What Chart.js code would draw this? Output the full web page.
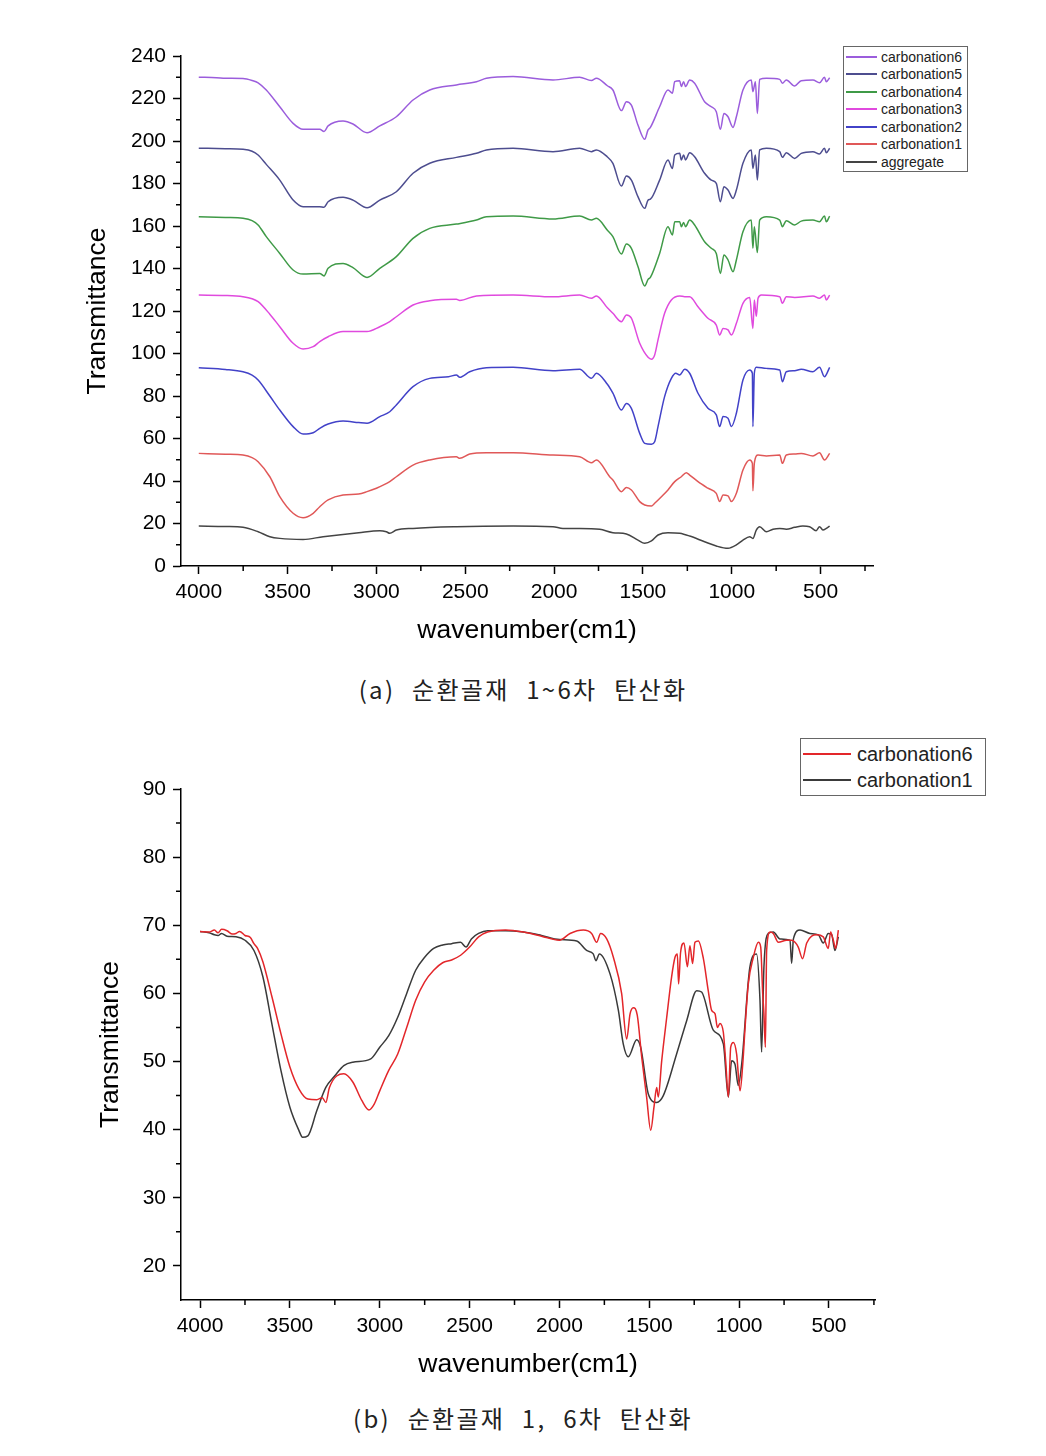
<!DOCTYPE html>
<html>
<head>
<meta charset="utf-8">
<script src="https://cdn.jsdelivr.net/npm/chart.js@4.4.1/dist/chart.umd.min.js"></script>
<style>
  body { margin: 0; background: #fff; width: 1046px; height: 1456px; position: relative; font-family: "Liberation Sans", Arial, sans-serif; }
  canvas { position: absolute; left: 0; }
  #topChart { top: 0; }
  #bottomChart { top: 720px; }
  .legend { position: absolute; border: 1.5px solid #666; background: #fff; box-sizing: border-box; color: #222; }
  .legend .row { display: flex; align-items: center; white-space: nowrap; }
  .legend .sw { display: inline-block; height: 2px; }
  #legendTop { left: 843px; top: 46px; width: 125px; height: 126px; font-size: 14px; padding-top: 1px; }
  #legendTop .row { height: 17.5px; }
  #legendTop .sw { width: 31px; margin: 0 4px 0 2px; }
  #legendBottom { left: 800px; top: 738px; width: 186px; height: 58px; font-size: 20px; padding-top: 2px; }
  #legendBottom .row { height: 26px; }
  #legendBottom .sw { width: 48px; margin: 0 6px 0 2px; }
  .caption { position: absolute; left: 0; width: 1046px; text-align: center; font-family: "Noto Sans CJK KR", sans-serif; font-weight: 400; font-size: 24px; letter-spacing: 2.3px; word-spacing: 9px; color: #222; }
</style>
</head>
<body>
<canvas id="topChart" width="1046" height="660"></canvas>
<canvas id="bottomChart" width="1046" height="680"></canvas>
<div class="legend" id="legendTop"></div>
<div class="legend" id="legendBottom"></div>
<div class="caption" style="top:671px">(a) 순환골재 1~6차 탄산화</div>
<div class="caption" style="top:1400px">(b) 순환골재 1, 6차 탄산화</div>
<script>
// axis ticks
const wnTicks = [4000, 3500, 3000, 2500, 2000, 1500, 1000, 500];
const wnMinor = [3750, 3250, 2750, 2250, 1750, 1250, 750, 250];
const topYTicks = [0, 20, 40, 60, 80, 100, 120, 140, 160, 180, 200, 220, 240];
const topYMinor = [10, 30, 50, 70, 90, 110, 130, 150, 170, 190, 210, 230];
const botYTicks = [20, 30, 40, 50, 60, 70, 80, 90];
const botYMinor = [25, 35, 45, 55, 65, 75, 85];

// (a) stacked spectra, [wavenumber, transmittance]
const carb6 = [[4000,230.0],[3900,229.8],[3850,229.5],[3751,229.4],[3700,228.5],[3666,227.4],[3620,224],[3544,216.1],[3469,208.3],[3413,205.5],[3319,205.5],[3295,204.5],[3272,207.1],[3188,209.4],[3132,208],[3053,203.9],[2981,207.1],[2888,211.4],[2794,219.3],[2700,224],[2550,226.4],[2437,227.9],[2381,229.5],[2231,230.3],[2006,228.7],[1856,230],[1790,228.5],[1762,229.5],[1700,226],[1669,224],[1621,214.3],[1593,218.5],[1565,216.9],[1528,207.5],[1490,200.8],[1471,205.2],[1458,206.4],[1406,216.1],[1359,224],[1334,222.5],[1321,227.9],[1293,228.4],[1284,225.6],[1271,227.9],[1260,225.6],[1237,228.7],[1209,227.2],[1153,218.5],[1115,216.1],[1087,213.8],[1064,205.5],[1044,213],[1021,211.4],[993,206.4],[974,211.4],[937,224],[890,228.7],[881,223.2],[867,227.9],[856,213],[843,229],[805,229.5],[730,229],[715,227.2],[693,228.7],[646,225.9],[609,228.4],[543,228.7],[506,227.4],[478,230],[468,227.9],[449,229.8]];
const carb5 = [[4000,196.6],[3850,196.4],[3751,196.1],[3700,195.2],[3666,193.4],[3620,189],[3544,181.6],[3469,172.2],[3413,169.1],[3319,169.1],[3295,168.8],[3272,171.4],[3188,173.5],[3132,172.2],[3053,168.6],[2981,172.2],[2888,176.1],[2794,184.8],[2700,189.5],[2550,192.3],[2437,194.2],[2381,195.8],[2231,196.6],[2006,195],[1856,196.6],[1790,195],[1762,195.8],[1700,192.5],[1669,189.5],[1621,178.8],[1593,183.5],[1565,181.6],[1528,173.8],[1490,168.3],[1471,172.2],[1458,172.6],[1406,181.6],[1359,191.1],[1334,187.1],[1321,193.4],[1293,194.2],[1284,191.1],[1271,193.4],[1260,191.1],[1237,194.5],[1209,192.6],[1153,184.8],[1115,181.6],[1087,180.1],[1064,171.4],[1044,178.5],[1021,176.9],[993,173],[974,176.9],[937,189.5],[890,195.8],[881,187.1],[867,193.4],[856,181.6],[843,195.8],[805,196.6],[730,195],[715,192.3],[693,194.5],[646,191.8],[609,194.2],[543,195],[506,193.9],[478,196.6],[468,194.5],[449,196.6]];
const carb4 = [[4000,164.4],[3850,164],[3751,163.6],[3700,162.5],[3666,160.5],[3620,155],[3544,147.1],[3469,139.3],[3413,137.4],[3319,137.7],[3295,136.5],[3272,140.1],[3188,142.4],[3132,140.4],[3053,135.8],[2981,140.1],[2888,145.6],[2794,154.2],[2700,158.9],[2550,160.9],[2437,162.8],[2381,164.4],[2231,164.7],[2006,163.3],[1856,164.7],[1790,162.8],[1762,163.6],[1700,158],[1669,155],[1621,146.8],[1593,151.5],[1565,149.5],[1528,140.9],[1490,131.8],[1471,134.9],[1458,135.8],[1406,147.1],[1359,159.7],[1334,155.8],[1321,162],[1293,162],[1284,159.7],[1271,161.6],[1260,159.7],[1237,162.8],[1209,160.5],[1153,152.6],[1115,149.5],[1087,147.1],[1064,137.7],[1044,146.4],[1021,144],[993,138.5],[974,144],[937,157.3],[890,162.8],[881,149.5],[873,159.7],[856,147.5],[843,162.8],[805,164.4],[730,162.8],[715,159.7],[693,162.5],[646,160.5],[609,162.3],[543,162.8],[506,162],[478,164.7],[468,162],[449,164.7]];
const carb3 = [[4000,127.5],[3850,127.3],[3751,126.7],[3700,125.8],[3666,124.4],[3600,118.5],[3544,112.6],[3469,104.8],[3413,102.1],[3356,103.2],[3319,105.6],[3272,107.9],[3188,110.3],[3100,110.3],[3053,110.3],[2981,112.6],[2925,115],[2888,117.3],[2794,122.8],[2700,124.8],[2550,125.5],[2531,125.0],[2437,127.1],[2231,127.5],[2006,126.7],[1856,127.5],[1790,126],[1762,127.1],[1700,121.5],[1669,118.9],[1621,115],[1593,118.1],[1565,116.6],[1518,104.8],[1471,98.2],[1452,97.3],[1434,99.3],[1415,106.4],[1378,118.9],[1340,125.2],[1293,127.1],[1265,126.7],[1237,126.7],[1190,122],[1134,116.6],[1087,113.4],[1068,108.7],[1049,111.8],[1021,111.1],[1002,108.7],[974,114.2],[937,123.6],[899,126.4],[881,111.8],[873,125.2],[862,117.5],[852,126],[833,127.5],[730,126.7],[715,123.6],[693,126.7],[646,126.4],[543,127.1],[506,126],[478,127.5],[468,125.2],[449,127.5]];
const carb2 = [[4000,93.3],[3850,92.5],[3751,91.4],[3700,89.8],[3666,87.5],[3600,80],[3544,73.4],[3469,65.6],[3413,62.1],[3356,62.7],[3319,64.8],[3272,66.8],[3188,68.2],[3100,67.5],[3053,67.2],[2981,70.3],[2925,72.6],[2888,75.8],[2794,84.4],[2700,88.3],[2594,89.1],[2550,89.9],[2531,88.8],[2475,91.4],[2381,93.3],[2231,93.5],[2006,91.9],[1856,92.6],[1790,88.3],[1762,90.7],[1700,85.5],[1669,81.3],[1621,73.4],[1593,76.5],[1565,74.2],[1518,62.4],[1490,57.7],[1452,57.3],[1434,58.5],[1415,65.6],[1378,79.7],[1340,88.3],[1315,90.7],[1293,89.9],[1265,92.6],[1237,90.7],[1190,81.3],[1134,74.2],[1087,71.1],[1068,65.6],[1049,70.3],[1021,69.5],[1002,65.6],[974,71.9],[937,87.5],[899,92.2],[884,90.7],[881,65.6],[873,90.7],[862,93.5],[805,93],[730,92.2],[715,86.7],[693,91.4],[646,91.9],[609,92.6],[543,91.4],[506,93.5],[478,89.1],[449,93.5]];
const carb1 = [[4000,53],[3850,52.6],[3751,52.2],[3700,51],[3666,49.1],[3600,42],[3544,32.6],[3469,24.8],[3413,22.7],[3356,24.8],[3319,27.9],[3272,31.1],[3188,33.4],[3100,33.9],[3053,35],[3000,36.6],[2925,39.7],[2888,42],[2794,47.5],[2700,49.9],[2550,51.4],[2531,50.7],[2475,52.7],[2381,53.3],[2231,53.3],[2006,52.2],[1856,51.4],[1790,48.6],[1762,49.9],[1687,42],[1669,40.5],[1621,35],[1593,37],[1565,35.8],[1518,30.3],[1490,28.7],[1452,28.2],[1434,29.5],[1396,32.6],[1359,35.8],[1321,39.7],[1284,42],[1256,43.9],[1237,42.8],[1190,39.7],[1134,36.6],[1087,34.2],[1068,30.3],[1049,33.4],[1021,33],[1002,30.3],[974,34.2],[937,45.2],[899,49.9],[884,48.3],[881,35.4],[873,48.3],[852,52.2],[805,51.8],[730,52.2],[715,48.3],[693,52.2],[646,52.7],[609,53],[543,51.8],[506,53.3],[478,49.9],[449,53]];
const aggregate = [[4000,18.8],[3850,18.6],[3751,18.2],[3666,16.1],[3600,13.8],[3544,13],[3413,12.5],[3300,13.8],[3100,15.7],[2981,16.6],[2944,16.1],[2925,15.4],[2888,16.9],[2794,17.7],[2550,18.5],[2231,18.8],[2006,18.5],[1950,17.7],[1856,17.7],[1743,17.3],[1669,15.7],[1593,15.1],[1528,12.2],[1490,10.7],[1452,11.8],[1415,14.6],[1359,15.7],[1293,15.4],[1237,14.1],[1153,11.4],[1087,9.4],[1021,8.3],[974,9.9],[937,12.2],[899,13.8],[881,13],[862,16.9],[843,18.5],[805,16.1],[768,17.3],[730,17.7],[693,17.3],[646,18.2],[600,18.8],[562,18.5],[525,16.6],[506,18.5],[487,17],[468,17.7],[449,18.8]];

// (b) carbonation 1 vs 6
const b6 = [[4000,69.1],[3950,69.0],[3920,69.3],[3900,68.9],[3880,69.4],[3850,69.2],[3820,68.7],[3800,68.8],[3780,69.1],[3750,68.5],[3720,68.2],[3700,67.3],[3680,66.6],[3650,64.6],[3600,59.5],[3550,54.1],[3500,49.2],[3450,46],[3400,44.5],[3350,44.4],[3320,44.7],[3300,44],[3280,46.2],[3200,48.2],[3150,47],[3100,44.3],[3060,42.9],[3030,43.8],[3000,45.7],[2950,48.7],[2900,51.1],[2850,55],[2800,59],[2750,61.7],[2700,63.4],[2650,64.5],[2600,64.9],[2550,65.6],[2500,66.8],[2450,68.3],[2400,69],[2300,69.3],[2200,69],[2100,68.4],[2000,67.8],[1941,68.8],[1867,69.3],[1821,68.8],[1793,67.5],[1771,68.8],[1737,68],[1700,65.3],[1654,60],[1626,53.3],[1607,57],[1589,57.9],[1567,56.8],[1542,50.6],[1515,44.8],[1492,39.9],[1474,43.3],[1459,46.2],[1450,44.8],[1431,50.1],[1403,56.5],[1376,62.4],[1357,65.3],[1344,65.8],[1337,61.4],[1326,66],[1307,67.4],[1288,63.9],[1274,67],[1259,64.4],[1246,67.5],[1227,67.7],[1199,65.1],[1172,60.4],[1153,57.5],[1134,57],[1121,55],[1107,55.6],[1088,54.3],[1075,50.1],[1060,44.8],[1047,52.1],[1032,52.8],[1014,51.1],[995,45.7],[980,49.6],[967,55],[949,61.4],[921,65.3],[893,67.5],[880,66.8],[869,60],[862,57],[854,52.1],[847,66.3],[828,69],[810,68.8],[782,67.5],[736,67.8],[708,67.8],[689,67.5],[671,66.8],[647,65.1],[624,67.4],[569,68.6],[532,68.3],[504,66.6],[491,69],[476,67.8],[463,66.6],[448,69.3]];
const b1 = [[4000,69.1],[3950,68.9],[3920,68.6],[3900,68.5],[3880,68.8],[3850,68.4],[3800,68.3],[3750,67.8],[3700,66.3],[3650,62.4],[3600,55.5],[3550,48.7],[3500,43.3],[3450,39.9],[3430,38.9],[3400,39.1],[3350,42.8],[3300,46.2],[3250,47.9],[3200,49.4],[3150,49.9],[3050,50.4],[3000,52.1],[2950,53.8],[2900,56.5],[2850,60],[2800,63.4],[2750,65.3],[2700,66.6],[2650,67.1],[2600,67.3],[2550,67.5],[2520,66.8],[2490,68],[2450,68.8],[2400,69.2],[2300,69.2],[2200,69],[2100,68.5],[2000,67.9],[1904,67.7],[1849,66.3],[1812,65.8],[1797,64.8],[1778,65.8],[1719,62.9],[1672,57.5],[1645,52.6],[1617,50.7],[1570,53.2],[1548,52.1],[1505,45.2],[1459,44],[1422,45],[1348,51.1],[1292,56],[1236,60.4],[1209,60.2],[1144,54.6],[1088,52.6],[1060,44.8],[1042,50.1],[1023,49.6],[1005,46.5],[986,49.6],[940,63.9],[903,65.8],[884,59],[875,51.4],[862,63.9],[838,68.8],[810,69],[773,68],[717,67.8],[708,64.4],[698,68],[661,69.3],[606,68.8],[559,68.6],[532,67.4],[504,68.8],[485,68.6],[467,66.3],[448,68.3]];

const FONT = '"Liberation Sans", Arial, sans-serif';
const toXY = (arr) => arr.map((p) => ({ x: p[0], y: p[1] }));

// minor ticks, Origin style
const minorTicks = {
  id: 'minorTicks',
  afterDraw(chart, args, opts) {
    const ctx = chart.ctx;
    const xs = chart.scales.x;
    const ys = chart.scales.y;
    ctx.save();
    ctx.strokeStyle = '#000';
    ctx.lineWidth = 1.5;
    ctx.beginPath();
    (opts.x || []).forEach((v) => {
      const px = xs.getPixelForValue(v);
      ctx.moveTo(px, xs.top);
      ctx.lineTo(px, xs.top + 5);
    });
    (opts.y || []).forEach((v) => {
      const py = ys.getPixelForValue(v);
      ctx.moveTo(ys.right - 5, py);
      ctx.lineTo(ys.right, py);
    });
    ctx.stroke();
    ctx.restore();
  },
};

function axisCommon() {
  return {
    grid: { display: true, drawOnChartArea: false, drawTicks: true, tickLength: 8, tickWidth: 1.5, tickColor: '#000' },
    border: { display: true, color: '#000', width: 1.5 },
  };
}

function makeChart(id, datasets, cfg) {
  return new Chart(document.getElementById(id), {
    type: 'line',
    data: { datasets: datasets },
    plugins: [minorTicks],
    options: {
      responsive: false,
      animation: false,
      events: [],
      layout: { padding: cfg.padding },
      elements: { point: { radius: 0 }, line: { borderWidth: 1.5, cubicInterpolationMode: 'monotone' } },
      plugins: {
        legend: { display: false },
        tooltip: { enabled: false },
        minorTicks: { x: wnMinor, y: cfg.yMinor },
      },
      scales: {
        x: Object.assign(axisCommon(), {
          type: 'linear',
          reverse: true,
          min: cfg.xMin,
          max: cfg.xMax,
          afterBuildTicks: (s) => { s.ticks = wnTicks.map((v) => ({ value: v })); },
          afterFit: (s) => { s.height = 81; },
          ticks: { color: '#000', font: { family: FONT, size: 21 }, padding: 6, maxRotation: 0, autoSkip: false, callback: (v) => String(v) },
          title: { display: true, text: 'wavenumber(cm1)', color: '#000', font: { family: FONT, size: 26.5 }, padding: 0 },
        }),
        y: Object.assign(axisCommon(), {
          type: 'linear',
          min: cfg.yMin,
          max: cfg.yMax,
          afterBuildTicks: (s) => { s.ticks = cfg.yTicks.map((v) => ({ value: v })); },
          afterFit: (s) => { s.width = cfg.yWidth; },
          ticks: { color: '#000', font: { family: FONT, size: 21 }, padding: 7, autoSkip: false, callback: (v) => String(v) },
          title: { display: true, text: 'Transmittance', color: '#000', font: { family: FONT, size: 26.5 }, padding: 0 },
        }),
      },
    },
  });
}

function buildLegend(elId, chart) {
  const el = document.getElementById(elId);
  chart.data.datasets.forEach((ds) => {
    const row = document.createElement('div');
    row.className = 'row';
    const sw = document.createElement('span');
    sw.className = 'sw';
    sw.style.backgroundColor = ds.borderColor;
    const tx = document.createElement('span');
    tx.textContent = ds.label;
    row.append(sw, tx);
    el.appendChild(row);
  });
}

const topChart = makeChart('topChart', [
  { label: 'carbonation6', data: toXY(carb6), borderColor: '#9b5ddc' },
  { label: 'carbonation5', data: toXY(carb5), borderColor: '#4d4d8f' },
  { label: 'carbonation4', data: toXY(carb4), borderColor: '#3f9a47' },
  { label: 'carbonation3', data: toXY(carb3), borderColor: '#e04ade' },
  { label: 'carbonation2', data: toXY(carb2), borderColor: '#4242c8' },
  { label: 'carbonation1', data: toXY(carb1), borderColor: '#e05858' },
  { label: 'aggregate', data: toXY(aggregate), borderColor: '#444444' },
], {
  padding: { top: 56, right: 173, bottom: 13, left: 82 },
  yWidth: 99, xMin: 205, xMax: 4100, yMin: 0, yMax: 240,
  yTicks: topYTicks, yMinor: topYMinor,
});

const bottomChart = makeChart('bottomChart', [
  { label: 'carbonation6', data: toXY(b6), borderColor: '#e3262a' },
  { label: 'carbonation1', data: toXY(b1), borderColor: '#3a3a3a' },
], {
  padding: { top: 69, right: 171, bottom: 19, left: 95 },
  yWidth: 86, xMin: 244, xMax: 4106, yMin: 15, yMax: 90,
  yTicks: botYTicks, yMinor: botYMinor,
});

buildLegend('legendTop', topChart);
buildLegend('legendBottom', bottomChart);
</script>
</body>
</html>
